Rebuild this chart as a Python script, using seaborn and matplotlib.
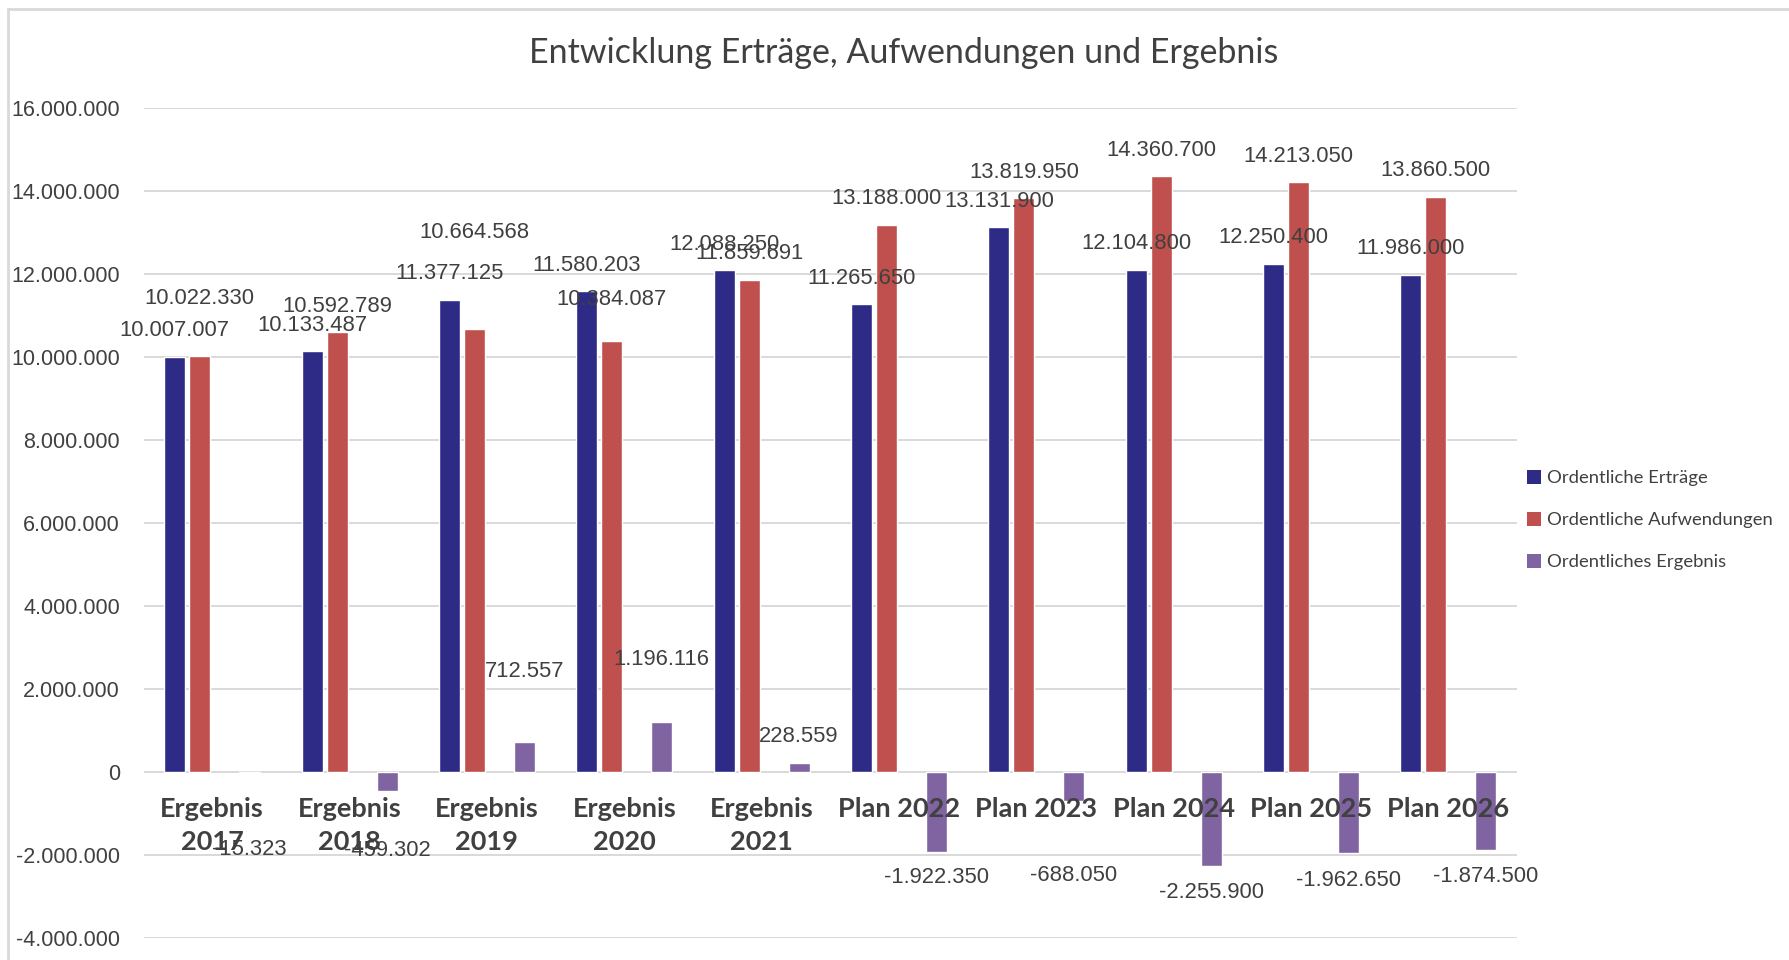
import numpy as np
import pandas as pd
import matplotlib.pyplot as plt
from matplotlib.patches import Patch
from matplotlib.lines import Line2D
import seaborn as sns

# Data (EUR)
categories = ["Ergebnis\n2017", "Ergebnis\n2018", "Ergebnis\n2019", "Ergebnis\n2020",
              "Ergebnis\n2021", "Plan 2022", "Plan 2023", "Plan 2024", "Plan 2025", "Plan 2026"]
ertraege = [10007007, 10133487, 11377125, 11580203, 12088250,
            11265650, 13131900, 12104800, 12250400, 11986000]
aufwendungen = [10022330, 10592789, 10664568, 10384087, 11859691,
                13188000, 13819950, 14360700, 14213050, 13860500]
ergebnis = [-15323, -459302, 712557, 1196116, 228559,
            -1922350, -688050, -2255900, -1962650, -1874500]
series = ["Ordentliche Erträge", "Ordentliche Aufwendungen", "Ordentliches Ergebnis"]

# extra label distance (px) beyond the default spot, as moved by hand in the original
shift_ertraege = [0, 0, 0, 0, 0, 0, 0, 0, 0, 0]
shift_aufwendungen = [32, 0, 71, 16, 0, 0, 0, 0, 0, 0]
shift_ergebnis = [51, 33, 45, 37, 0, 0, 49, 1, 1, 1]

colors = {"Ordentliche Erträge": "#2E2B87", "Ordentliche Aufwendungen": "#C0504D",
          " ": "#FFFFFF", "Ordentliches Ergebnis": "#8064A2"}
text_col = "#404040"

df = pd.DataFrame({
    "Kategorie": categories * 3,
    "Serie": [series[0]] * 10 + [series[1]] * 10 + [series[2]] * 10,
    "Wert": ertraege + aufwendungen + ergebnis,
})

sns.set_style("white")
plt.rcParams["font.family"] = ["Liberation Sans", "DejaVu Sans"]

fig = plt.figure(figsize=(17.9, 9.6), dpi=100)
ax = fig.add_axes([0.0802, 0.0229, 0.7673, 0.8646])

# empty third slot keeps the gap between red and purple bars like in the original
sns.barplot(data=df, x="Kategorie", y="Wert", hue="Serie",
            hue_order=[series[0], series[1], " ", series[2]],
            palette=colors, width=0.728, gap=0.16, legend=False,
            saturation=1, ax=ax)

ax.set_ylim(-4000000, 16000000)
ax.set_xlim(-0.5, len(categories) - 0.5)
ax.set_yticks(np.arange(-4000000, 16000001, 2000000))
ax.yaxis.set_major_formatter(lambda v, p: f"{int(v):,}".replace(",", "."))
ax.yaxis.grid(True, color="#D9D9D9", linewidth=1.4)
ax.set_axisbelow(True)
ax.xaxis.set_zorder(5)  # category names sit on top of the bars
for s in ax.spines.values():
    s.set_visible(False)
ax.spines["bottom"].set_position(("data", 0))
ax.tick_params(axis="y", length=0, pad=17, labelsize=15.5, labelcolor=text_col)
ax.tick_params(axis="x", length=0, pad=18, labelcolor=text_col)
for lab in ax.get_xticklabels():
    lab.set_fontfamily("Lato")
    lab.set_fontweight("bold")
    lab.set_fontsize(19.5)
    lab.set_linespacing(1.45)
ax.set_xlabel("")
ax.set_ylabel("")

# data labels
bar_sets = [c for c in ax.containers if len(c) > 0]
shifts = [shift_ertraege, shift_aufwendungen, shift_ergebnis]
for cont, sh in zip(bar_sets, shifts):
    for bar, extra in zip(cont, sh):
        h = bar.get_height()
        sign = 1 if h >= 0 else -1
        ax.annotate(f"{int(round(h)):,}".replace(",", "."),
                    (bar.get_x() + bar.get_width() / 2, h),
                    xytext=(0, sign * (26 + extra)), textcoords="offset pixels",
                    ha="center", va="center", fontsize=15.8, color=text_col)

fig.text(0.505, 0.945, "Entwicklung Erträge, Aufwendungen und Ergebnis",
         ha="center", va="center", fontsize=24.5, color=text_col, family="Lato")

handles = [Patch(facecolor=colors[s], edgecolor="none") for s in series]
fig.legend(handles, series, loc="center left", bbox_to_anchor=(0.844, 0.458),
           frameon=False, handlelength=0.75, handleheight=0.75, handletextpad=0.3,
           labelspacing=1.4, prop={"family": "Lato", "size": 13.3},
           labelcolor=text_col)

# chart area border
fig.add_artist(Line2D([0.0045, 1], [0.9906, 0.9906], color="#D9D9D9", linewidth=2))
fig.add_artist(Line2D([0.0045, 0.0045], [0, 0.9906], color="#D9D9D9", linewidth=2))

fig.savefig("out.png", dpi=100, facecolor="white")
